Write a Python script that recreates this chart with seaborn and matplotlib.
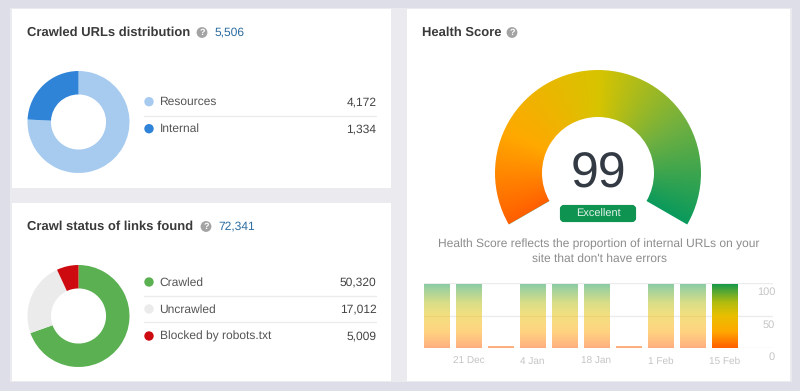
import numpy as np
import matplotlib
matplotlib.use('Agg')
import matplotlib.pyplot as plt
from matplotlib.colors import LinearSegmentedColormap
from matplotlib.patches import Circle, FancyBboxPatch, Rectangle, Wedge
from matplotlib.transforms import ScaledTranslation
import seaborn as sns

url_labels = ['Resources', 'Internal']
url_values = [4172, 1334]
url_total = '5,506'
url_colors = ['#a7cbef', '#2f84d8']

link_labels = ['Crawled', 'Uncrawled', 'Blocked by robots.txt']
link_values = [50320, 17012, 5009]
link_total = '72,341'
link_colors = ['#5bb052', '#ebebeb', '#cc0a10']

score_dates = ['14 Dec', '21 Dec', '28 Dec', '4 Jan', '11 Jan', '18 Jan',
               '25 Jan', '1 Feb', '8 Feb', '15 Feb']
score_values = [99, 99, 3, 99, 99, 99, 3, 99, 99, 99]
score_ticks = [0, 50, 100]
health_score = 99

W, H = 800, 391
BG = '#dedee8'
TEXT = '#3a3a3a'
FONT = 'Liberation Sans'

sns.set_theme(style='white')
plt.rcParams['font.family'] = [FONT, 'DejaVu Sans']
plt.rcParams['text.hinting'] = 'no_hinting'
plt.rcParams['text.hinting_factor'] = 1

fig = plt.figure(figsize=(W / 100, H / 100), dpi=100, facecolor=BG)


def px_axes(x0, y0, x1, y1, zorder=2):
    # axes placed by pixel box, y counted from the top like the reference
    a = fig.add_axes([x0 / W, 1 - y1 / H, (x1 - x0) / W, (y1 - y0) / H], zorder=zorder)
    a.set_facecolor('none')
    return a


# one full size axes for panels, text and legends
bg = px_axes(0, 0, W, H, zorder=1)
bg.set_xlim(0, W)
bg.set_ylim(H, 0)
bg.axis('off')

bg.add_patch(Rectangle((10, 8), 782, 374, fc='#ebebef', ec='none'))
for x0, y0, x1, y1 in [(12, 9, 391, 188), (12, 203, 391, 381), (407, 9, 790, 381)]:
    bg.add_patch(Rectangle((x0, y0), x1 - x0, y1 - y0, fc='white', ec='none'))


def help_icon(x, y):
    bg.add_patch(Circle((x, y), 5.4, fc='#a3a3a3', ec='none'))
    bg.text(x, y + 0.3, '?', color='white', fontsize=6.5, fontweight='bold', ha='center', va='center')


def title(x, y, s, icon_x, total=None, total_x=None):
    bg.text(x, y, s, color=TEXT, fontsize=9.35, fontweight='bold', va='center')
    help_icon(icon_x, y)
    if total:
        bg.text(total_x, y, total, color='#2c6c9f', fontsize=8.8, va='center')


def donut(cx, cy, values, colors):
    a = px_axes(cx - 51, cy - 51, cx + 51, cy + 51)
    a.pie(values, colors=colors, startangle=90, counterclock=False, radius=1,
          wedgeprops={'width': 0.46, 'linewidth': 0})
    a.set_xlim(-1, 1)
    a.set_ylim(-1, 1)


def legend(ys, seps, labels, values, colors):
    for y, lab, val, col in zip(ys, labels, values, colors):
        bg.add_patch(Circle((149, y), 4.7, fc=col, ec='none'))
        bg.text(159.5, y + 0.5, lab, color='#555555', fontsize=8.4, va='center')
        bg.text(376.5, y + 0.5, f'{val:,}', color='#444444', fontsize=8.4, va='center', ha='right')
    for y in seps:
        bg.plot([144, 376], [y, y], color='#ececec', lw=1)


title(27, 32.5, 'Crawled URLs distribution', 202, url_total, 215)
donut(78.5, 122, url_values, url_colors)
legend([101.7, 128.7], [115.7], url_labels, url_values, url_colors)

title(27, 226.5, 'Crawl status of links found', 206, link_total, 218)
donut(78.5, 316, link_values, link_colors)
legend([282, 309, 336], [295.7, 322.3], link_labels, link_values, link_colors)

title(422, 32.5, 'Health Score', 512)

# gauge, colour follows the angle along the arc
gauge_cmap = LinearSegmentedColormap.from_list('gauge', [
    (0.0, '#ff5f00'), (0.22, '#ffa800'), (0.5, '#d8c400'), (0.75, '#70b040'), (1.0, '#0a9a5c')])
cx, cy, r_out, r_in = 598, 173, 103, 56
xx, yy = np.meshgrid(np.linspace(cx - r_out, cx + r_out, 420), np.linspace(cy - r_out, cy + r_out, 420))
ang = np.degrees(np.arctan2(yy - cy, xx - cx))
frac = np.clip((np.mod(ang - 150, 360)) / 240, 0, 1)
gauge_img = bg.imshow(frac, cmap=gauge_cmap, vmin=0, vmax=1, aspect='auto', interpolation='bilinear',
                      extent=(cx - r_out, cx + r_out, cy + r_out, cy - r_out), zorder=2)
arc = Wedge((cx, cy), r_out, 150, 390, width=r_out - r_in, fc='none', ec='none')
bg.add_patch(arc)
gauge_img.set_clip_path(arc)
bg.set_xlim(0, W)
bg.set_ylim(H, 0)

bg.text(cx, 188, str(health_score), color='#333a44', fontsize=36, ha='center', va='baseline')
bg.add_patch(FancyBboxPatch((562, 207), 72, 13, boxstyle='round,pad=0,rounding_size=2', fc='#0e9350', ec='#0e9350', lw=3))
bg.text(598, 214, 'Excellent', color='#e6f3ec', fontsize=8.1, ha='center', va='center')
bg.text(cx + 1, 244, 'Health Score reflects the proportion of internal URLs on your', color='#8c8c8c', fontsize=8.85, ha='center', va='center')
bg.text(cx + 1, 259, "site that don't have errors", color='#8c8c8c', fontsize=8.85, ha='center', va='center')

# history bars
ax = px_axes(424, 283.3, 773, 348.3)
sns.barplot(x=score_dates, y=score_values, ax=ax, width=0.79, color='white', zorder=2)
sns.despine(ax=ax, left=True, bottom=True)
bar_cmap = LinearSegmentedColormap.from_list('bars', [
    (0.0, '#ff5f00'), (0.25, '#ffa800'), (0.5, '#e8c000'), (0.7, '#b0bc10'), (1.0, '#0a9650')])
grad = np.linspace(1, 0, 128).reshape(-1, 1)
for i, bar in enumerate(ax.patches):
    bar.set_facecolor('none')
    bar.set_edgecolor('none')
    x0 = bar.get_x()
    im = ax.imshow(grad, cmap=bar_cmap, vmin=0, vmax=1, aspect='auto', zorder=3,
                   alpha=1 if i == len(ax.patches) - 1 else 0.5,
                   extent=(x0, x0 + bar.get_width(), 0, 100))
    im.set_clip_path(bar)
ax.set_xlim(-0.39, 10.52)
ax.set_ylim(0, 100)
ax.set_xticks(range(1, 10, 2))
ax.set_xticklabels(score_dates[1::2])
ax.set_yticks(score_ticks)
ax.yaxis.tick_right()
ax.grid(axis='y', color='#ececec', lw=1, zorder=1)
ax.set_axisbelow(True)
ax.tick_params(axis='x', length=0, pad=6, labelsize=7.4, labelcolor='#c4c4c4')
ax.tick_params(axis='y', length=0, pad=1.5, labelsize=8.1, labelcolor='#c4c4c4')
ax.set_xlabel('')
offset = ScaledTranslation(0, -8 / 72 * 0.72, fig.dpi_scale_trans)
for lab in ax.get_yticklabels():
    lab.set_ha('right')
    lab.set_transform(lab.get_transform() + offset)

fig.savefig('out.png', dpi=100, facecolor=BG)
